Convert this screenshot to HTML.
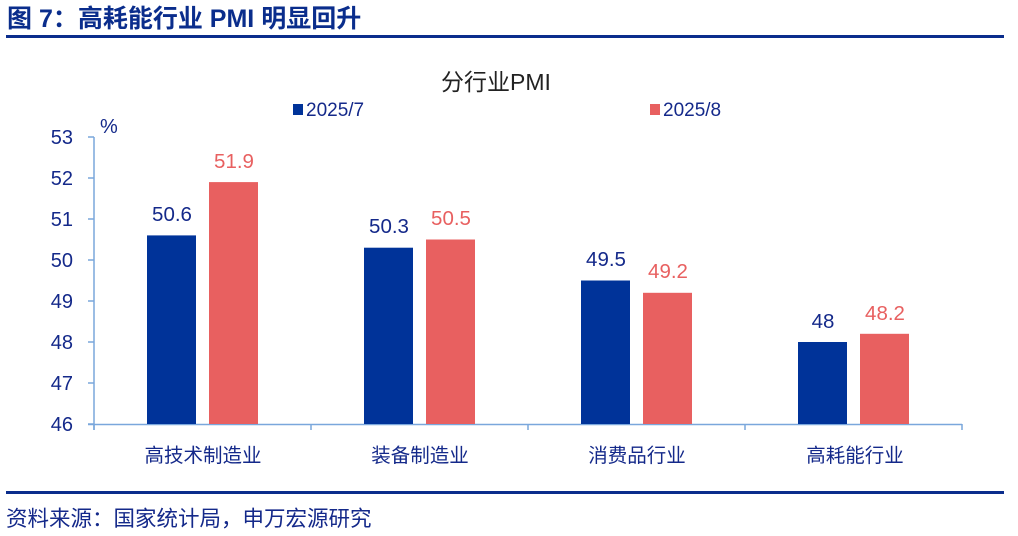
<!DOCTYPE html>
<html><head><meta charset="utf-8"><style>
body{margin:0;width:1018px;height:536px;background:#fff;overflow:hidden;position:relative;font-family:"Liberation Sans","Noto Sans CJK SC",sans-serif}
.a{position:absolute;white-space:nowrap}
</style></head><body>
<div class="a" style="left:7px;top:5px;font-size:25px;font-weight:bold;color:#0a2d8c;line-height:28px">图 7：高耗能行业 PMI 明显回升</div>
<div class="a" style="left:6px;top:35px;width:998px;height:3px;background:#0a2d8c"></div>
<svg class="a" style="left:0;top:0" width="1018" height="536">
<g font-family="Liberation Sans, Noto Sans CJK SC, sans-serif" fill="#14298a">
<text x="496" y="90" font-size="23" text-anchor="middle" fill="#222">分行业PMI</text>
<rect x="293" y="104" width="10" height="11" fill="#003399"/><text x="306" y="116" font-size="19">2025/7</text>
<rect x="650" y="104" width="10" height="11" fill="#e86060"/><text x="663" y="116" font-size="19">2025/8</text>
<text x="100" y="133" font-size="20">%</text>
<g font-size="20" text-anchor="end">
<text x="73" y="144">53</text><text x="73" y="185">52</text><text x="73" y="226">51</text><text x="73" y="267">50</text><text x="73" y="308">49</text><text x="73" y="349">48</text><text x="73" y="390">47</text><text x="73" y="431">46</text>
</g>
<g stroke="#7aa7dc" stroke-width="1.5" fill="none">
<line x1="94" y1="137" x2="94" y2="430"/>
<path d="M88 137H94M88 178H94M88 219H94M88 260H94M88 301H94M88 342H94M88 383H94M88 424H94"/>
<line x1="88" y1="424.5" x2="962" y2="424.5"/>
<path d="M94 424V430M311 424V430M528 424V430M745 424V430M962 424V430"/>
</g>
<rect x="147" y="235.4" width="49" height="188.6" fill="#003399"/>
<rect x="209" y="182.1" width="49" height="241.9" fill="#e86060"/>
<rect x="364" y="247.7" width="49" height="176.3" fill="#003399"/>
<rect x="426" y="239.5" width="49" height="184.5" fill="#e86060"/>
<rect x="581" y="280.5" width="49" height="143.5" fill="#003399"/>
<rect x="643" y="292.8" width="49" height="131.2" fill="#e86060"/>
<rect x="798" y="342" width="49" height="82" fill="#003399"/>
<rect x="860" y="333.8" width="49" height="90.2" fill="#e86060"/>
<g font-size="20.5" text-anchor="middle">
<text x="172" y="221">50.6</text><text x="234" y="168" fill="#e86060">51.9</text>
<text x="389" y="233">50.3</text><text x="451" y="225" fill="#e86060">50.5</text>
<text x="606" y="266">49.5</text><text x="668" y="278" fill="#e86060">49.2</text>
<text x="823" y="328">48</text><text x="885" y="320" fill="#e86060">48.2</text>
</g>
<g font-size="19.5" text-anchor="middle">
<text x="203" y="462">高技术制造业</text><text x="420" y="462">装备制造业</text><text x="637" y="462">消费品行业</text><text x="855" y="462">高耗能行业</text>
</g>
<text x="6" y="526" font-size="21.5">资料来源：国家统计局，申万宏源研究</text>
</g>
<rect x="6" y="491" width="998" height="3" fill="#0a2d8c"/>
</svg>
</body></html>
